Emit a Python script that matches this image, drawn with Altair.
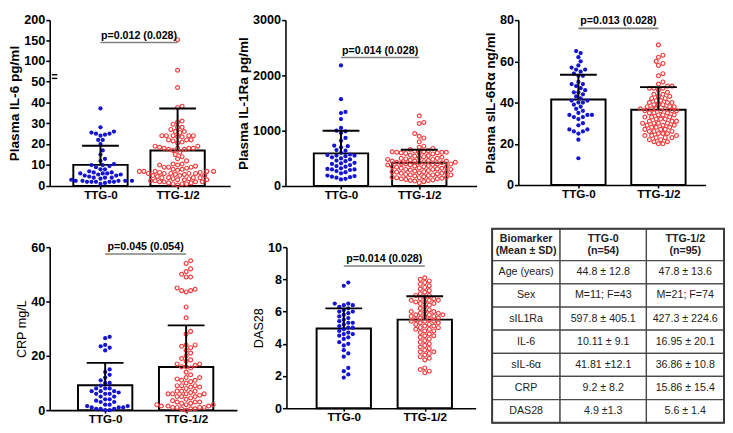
import altair as alt
import pandas as pd
import numpy as np

GROUPS = ["TTG-0", "TTG-1/2"]
BLUE = "#1414d2"
RED = "#f03c3c"
FONT = "Liberation Sans"

# ---------------- data ----------------
il6_g0 = [37, 28, 26, 25.5, 25, 25, 24.5, 24, 22, 22, 20, 17, 15, 13, 12, 10.5, 10, 10, 9.5, 9,
          8, 8, 7, 6.5, 6.5, 6, 6, 6, 5.5, 5.5, 5, 5, 4.5, 4, 4, 4, 3.5, 3, 2.5, 2.5, 2.5, 2, 2,
          2, 2, 2, 2.5, 2.5, 1, 1.5]
il6_g1 = [152, 77, 47, 38, 37.5, 31, 30.5, 29.5, 28, 28, 27, 26, 26, 25.5, 24, 24, 24, 24, 24,
          23.5, 23.5, 22, 22, 22, 21.5, 21, 20.5, 19, 19, 18.5, 18, 18, 18, 18, 17.5, 17.5, 17, 16,
          15, 14, 13, 12, 10.5, 10.5, 10, 10, 9.5, 9, 9, 9, 8.5, 8, 8, 7.5, 7, 7, 7, 7, 7, 6.5, 6.5,
          6, 6, 6, 6, 6, 5.5, 5.5, 5, 5, 5, 4.5, 4, 4, 4, 4, 3.5, 3.5, 3, 3, 3, 2.5, 2.5, 2, 2, 2, 2,
          1.5, 1.5, 1, 1, 1, 0.5]
il1ra_g0 = [2180, 1570, 1340, 1320, 1210, 1050, 1000, 990, 960, 870, 820, 730, 720, 700, 650, 640,
            600, 570, 560, 550, 550, 540, 520, 500, 480, 460, 450, 420, 410, 400, 380, 360, 350,
            320, 310, 300, 300, 290, 270, 250, 230, 190, 180, 170, 160, 150, 130, 120]
il1ra_g1 = [1270, 1150, 1130, 950, 900, 870, 800, 720, 700, 680, 660, 640, 630, 620, 620, 610, 610,
            610, 600, 600, 600, 590, 580, 560, 550, 540, 530, 520, 510, 500, 500, 490, 480, 470,
            460, 450, 450, 440, 430, 420, 420, 410, 400, 400, 390, 380, 370, 360, 350, 350, 340,
            330, 320, 310, 300, 300, 290, 280, 270, 260, 250, 250, 240, 230, 220, 210, 200, 200,
            190, 180, 170, 160, 150, 150, 140, 130, 120, 110, 100, 90, 60, 80, 100, 130, 160, 200,
            230, 260, 300, 320, 350, 380, 400, 430, 450, 480]
sil6r_g0 = [65, 64, 62, 60, 58, 57, 56, 56, 55, 54, 53, 53, 50, 49, 49, 48, 47, 46, 45, 45, 44, 43,
            42, 41, 41, 40, 40, 39, 38, 37, 36, 35, 34, 34, 34, 33, 33, 32, 30, 29, 27, 27, 26, 26,
            25, 22, 13]
sil6r_g1 = [68, 63, 62, 60, 59, 58, 54, 53, 50, 49, 48, 48, 47, 47, 47, 46, 45, 44, 44, 43, 43, 42,
            42, 41, 41, 40, 40, 40, 39, 39, 39, 38, 38, 38, 37, 37, 37, 37, 36, 36, 36, 36, 35, 35,
            35, 34, 34, 34, 33, 33, 33, 32, 32, 32, 31, 31, 31, 30, 30, 30, 30, 29, 29, 29, 28, 28,
            28, 27, 27, 27, 26, 26, 26, 25, 25, 25, 24, 24, 24, 23, 23, 23, 22, 22, 21, 21, 20, 20]
crp_g0 = [27, 26.5, 24, 23.5, 23, 22, 15, 14, 13, 12, 11, 10, 10, 9, 8, 8, 8, 7, 7, 7, 6.5, 6, 6, 6,
          5, 5, 4, 4, 3.5, 3, 3, 2, 2, 1.5, 1.5, 1, 1, 1, 0.5, 0.5, 0.5, 0, 0]
crp_g1 = [55, 54, 52, 51, 50, 49, 49, 45, 44.5, 44, 44, 43.5, 38, 34, 29, 28, 24, 24, 23.5, 23, 22,
          21, 20, 19, 18.5, 18, 17, 17, 16.5, 16, 16, 15.5, 14, 13, 12, 12, 11.5, 11, 11, 10.5, 10,
          9, 9, 9, 8.5, 8.5, 8, 7, 7, 7, 6.5, 6, 6, 6, 6, 5.5, 5, 5, 5, 4.5, 4, 3.5, 3, 3, 3, 2.5,
          2.5, 2, 2, 2, 1.5, 1.5, 1.5, 1, 1, 1, 1, 0.5, 0.5, 0.5, 0]
das_g0 = [7.8, 7.6, 6.5, 6.5, 6.4, 6.4, 6.3, 6.2, 6.1, 6.0, 6.0, 5.9, 5.8, 5.7, 5.6, 5.5, 5.4, 5.3,
          5.3, 5.2, 5.1, 5.0, 5.0, 4.9, 4.8, 4.7, 4.6, 4.6, 4.5, 4.4, 4.3, 4.1, 4.0, 3.9, 3.6, 3.4,
          3.2, 2.5, 2.3, 2.1, 1.9]
das_g1 = [8.1, 8.0, 7.9, 7.8, 7.7, 7.6, 7.5, 7.4, 7.3, 7.2, 7.1, 7.0, 7.0, 6.9, 6.8, 6.8, 6.7, 6.7,
          6.7, 6.6, 6.6, 6.5, 6.5, 6.4, 6.3, 6.2, 6.1, 6.0, 6.0, 6.0, 5.9, 5.9, 5.8, 5.8, 5.8, 5.7,
          5.7, 5.7, 5.6, 5.6, 5.5, 5.5, 5.4, 5.4, 5.4, 5.3, 5.3, 5.2, 5.2, 5.1, 5.1, 5.0, 5.0, 4.9,
          4.9, 4.8, 4.8, 4.7, 4.6, 4.5, 4.5, 4.4, 4.3, 4.2, 4.1, 4.0, 3.9, 3.8, 3.7, 3.6, 3.5, 3.5,
          3.4, 3.3, 3.2, 3.1, 3.0, 2.5, 2.4, 2.3, 2.2]

il6_mean, il6_top = [10.1, 16.95], [19.2, 37.0]
il1ra_mean, il1ra_top = [590, 420], [1000, 655]
sil6r_mean, sil6r_top = [41.5, 36.5], [53.5, 47.5]
crp_mean, crp_top = [9.2, 15.86], [17.4, 31.2]
das_mean, das_top = [4.95, 5.5], [6.2, 6.95]

p_texts = ["p=0.012 (0.028)", "p=0.014 (0.028)", "p=0.013 (0.028)", "p=0.045 (0.054)", "p=0.014 (0.028)"]
p_levels = [145, 2325, 76, 57.5, 8.83]

table_header = ["Biomarker\n(Mean ± SD)", "TTG-0\n(n=54)", "TTG-1/2\n(n=95)"]
table_rows = [
    ["Age (years)", "44.8 ± 12.8", "47.8 ± 13.6"],
    ["Sex", "M=11; F=43", "M=21; F=74"],
    ["sIL1Ra", "597.8 ± 405.1", "427.3 ± 224.6"],
    ["IL-6", "10.11 ± 9.1", "16.95 ± 20.1"],
    ["sIL-6α", "41.81 ±12.1", "36.86 ± 10.8"],
    ["CRP", "9.2 ± 8.2", "15.86 ± 15.4"],
    ["DAS28", "4.9 ±1.3", "5.6 ± 1.4"],
]


def swarm(vals, to_px, d):
    order = np.argsort(vals, kind="stable")
    placed = []
    xs = [0.0] * len(vals)
    cands = [0.0]
    for j in range(1, 80):
        cands += [j * 0.5 * d, -j * 0.5 * d]
    for i in order:
        y = to_px(vals[i])
        chosen = cands[-1]
        for c in cands:
            if all((c - px) ** 2 + (y - py) ** 2 >= d * d for px, py in placed):
                chosen = c
                break
        placed.append((chosen, y))
        xs[i] = chosen
    return xs


def panel(g0, g1, means, tops, ptext, plevel, ydom, yrange, yticks, ytitle, bold,
          W, H, L, S, to_px, brk=None):
    lo, hi = -L / S, (W - L) / S
    xs = alt.Scale(domain=[lo, hi], nice=False, zero=False)
    if yrange is not None:
        ys = alt.Scale(domain=ydom, range=yrange, nice=False, zero=False)
    else:
        ys = alt.Scale(domain=ydom, nice=False, zero=False)
    d = 4.9
    o0 = swarm(g0, to_px, d)
    o1 = swarm(g1, to_px, d)
    pts0 = pd.DataFrame({"x": [0 + o / S for o in o0], "v": g0})
    pts1 = pd.DataFrame({"x": [1 + o / S for o in o1], "v": g1})
    cap = 20 / S
    bars = pd.DataFrame({"g": [0, 1], "mean": means, "top": tops,
                         "cl": [0 - cap, 1 - cap], "cr": [0 + cap, 1 + cap]})
    xaxis = alt.Axis(values=[0, 1], labelExpr=f"['{GROUPS[0]}','{GROUPS[1]}'][datum.value]",
                     title=None, labelFontSize=12, labelPadding=1, tickSize=3)
    yaxis = alt.Axis(values=yticks, title=ytitle, titleFontWeight="bold" if bold else "normal",
                     titleFontSize=14 if bold else 13, format="d", labelOverlap=False, zindex=0)
    bar = alt.Chart(bars).mark_bar(size=56, fill="white", stroke="black", strokeWidth=2).encode(
        x=alt.X("g:Q", scale=xs, axis=xaxis), y=alt.Y("mean:Q", scale=ys, axis=yaxis))
    p0 = alt.Chart(pts0).mark_point(shape="circle", filled=True, size=19, color=BLUE, opacity=1).encode(
        x=alt.X("x:Q", scale=xs, axis=xaxis), y=alt.Y("v:Q", scale=ys, axis=yaxis))
    p1 = alt.Chart(pts1).mark_point(shape="circle", filled=False, size=16, color=RED, strokeWidth=1.2,
                                    opacity=1).encode(x=alt.X("x:Q", scale=xs, axis=xaxis),
                                                      y=alt.Y("v:Q", scale=ys, axis=yaxis))
    err = alt.Chart(bars).mark_rule(color="black", strokeWidth=2).encode(
        x=alt.X("g:Q", scale=xs, axis=xaxis), y=alt.Y("mean:Q", scale=ys, axis=yaxis), y2="top:Q")
    capr = alt.Chart(bars).mark_rule(color="black", strokeWidth=2).encode(
        x=alt.X("cl:Q", scale=xs, axis=xaxis), x2="cr:Q", y=alt.Y("top:Q", scale=ys, axis=yaxis))
    sig = pd.DataFrame({"a": [0], "b": [1], "m": [0.5], "y": [plevel], "t": [ptext]})
    sline = alt.Chart(sig).mark_rule(color="#808080", strokeWidth=1.6).encode(
        x=alt.X("a:Q", scale=xs, axis=xaxis), x2="b:Q", y=alt.Y("y:Q", scale=ys, axis=yaxis))
    stext = alt.Chart(sig).mark_text(font=FONT, fontSize=11, fontWeight="bold", baseline="bottom",
                                     dy=-2, color="black").encode(
        x=alt.X("m:Q", scale=xs, axis=xaxis), y=alt.Y("y:Q", scale=ys, axis=yaxis), text="t:N")
    layers = [bar, p0, p1, err, capr, sline, stext]
    if brk is not None:
        bd = pd.DataFrame({"x": [lo], "xa": [lo - 3 / S], "xb": [lo + 3 / S],
                           "y1": [brk[0]], "y2": [brk[1]]})
        gap = alt.Chart(bd).mark_rule(color="white", strokeWidth=6).encode(
            x=alt.X("x:Q", scale=xs, axis=xaxis), y=alt.Y("y1:Q", scale=ys, axis=yaxis), y2="y2:Q")
        t1 = alt.Chart(bd).mark_rule(color="black", strokeWidth=1.5).encode(
            x=alt.X("xa:Q", scale=xs, axis=xaxis), x2="xb:Q", y=alt.Y("y1:Q", scale=ys, axis=yaxis))
        t2 = alt.Chart(bd).mark_rule(color="black", strokeWidth=1.5).encode(
            x=alt.X("xa:Q", scale=xs, axis=xaxis), x2="xb:Q", y=alt.Y("y2:Q", scale=ys, axis=yaxis))
        layers += [gap, t1, t2]
    return alt.layer(*layers).properties(width=W, height=H)


def lin(H, top):
    return lambda v: v * H / top


H1 = 171
LOW1 = 108


def il6_px(v):
    return v * LOW1 / 50 if v <= 50 else LOW1 + (v - 50) * (H1 - LOW1) / 150


P1 = panel(il6_g0, il6_g1, il6_mean, il6_top, p_texts[0], p_levels[0], [0, 50, 200], [H1, H1 - LOW1, 0],
           [0, 10, 20, 30, 40, 50, 100, 150, 200], "Plasma IL-6 pg/ml", True, 186, H1, 50, 84, il6_px,
           brk=[57, 66])
P2 = panel(il1ra_g0, il1ra_g1, il1ra_mean, il1ra_top, p_texts[1], p_levels[1], [0, 3000], None,
           [0, 1000, 2000, 3000], "Plasma IL-1Ra pg/ml", True, 197, H1, 55, 85, lin(H1, 3000))
P3 = panel(sil6r_g0, sil6r_g1, sil6r_mean, sil6r_top, p_texts[2], p_levels[2], [0, 80], None,
           [0, 20, 40, 60, 80], "Plasma sIL-6Rα ng/ml", True, 193, 170, 60, 87, lin(170, 80))
P4 = panel(crp_g0, crp_g1, crp_mean, crp_top, p_texts[3], p_levels[3], [0, 60], None,
           [0, 20, 40, 60], "CRP mg/L", False, 193, 168, 55, 88, lin(168, 60))
P5 = panel(das_g0, das_g1, das_mean, das_top, p_texts[4], p_levels[4], [0, 10], None,
           [0, 2, 4, 6, 8, 10], "DAS28", False, 195, 166, 57, 88, lin(166, 10))

# ---------------- table ----------------
col_edges = [0, 70, 159, 239]
row_h = [33] + [23.86] * 7
row_edges = [0]
for h in row_h:
    row_edges.append(row_edges[-1] + h)
cells = []
all_rows = [table_header] + table_rows
for r, row in enumerate(all_rows):
    for c, txt in enumerate(row):
        cells.append({"x1": col_edges[c], "x2": col_edges[c + 1], "y1": row_edges[r], "y2": row_edges[r + 1],
                      "cx": (col_edges[c] + col_edges[c + 1]) / 2, "cy": (row_edges[r] + row_edges[r + 1]) / 2,
                      "t": txt, "hdr": r == 0})
cdf = pd.DataFrame(cells)
TW, TH = col_edges[-1], row_edges[-1]
RAISE = 19  # table top sits above the neighbouring plot tops
tx = alt.Scale(domain=[0, TW], nice=False, zero=False)
ty = alt.Scale(domain=[RAISE, TH], nice=False, zero=False, reverse=True)
rects = alt.Chart(cdf).mark_rect(fill="white", stroke="#4a4a4a", strokeWidth=1.3).encode(
    x=alt.X("x1:Q", scale=tx, axis=None), x2="x2:Q", y=alt.Y("y1:Q", scale=ty, axis=None), y2="y2:Q")
border = alt.Chart(pd.DataFrame({"a": [0], "b": [TW], "c": [0], "d": [TH]})).mark_rect(
    fill=None, stroke="#3a3a3a", strokeWidth=2).encode(
    x=alt.X("a:Q", scale=tx, axis=None), x2="b:Q", y=alt.Y("c:Q", scale=ty, axis=None), y2="d:Q")
body = alt.Chart(cdf[~cdf.hdr]).mark_text(font=FONT, fontSize=11, color="#222").encode(
    x=alt.X("cx:Q", scale=tx, axis=None), y=alt.Y("cy:Q", scale=ty, axis=None), text="t:N")
head = alt.Chart(cdf[cdf.hdr]).mark_text(font=FONT, fontSize=11, fontWeight="bold", color="#222",
                                         lineBreak="\n", dy=-6).encode(
    x=alt.X("cx:Q", scale=tx, axis=None), y=alt.Y("cy:Q", scale=ty, axis=None), text="t:N")
TABLE = alt.layer(rects, border, body, head).properties(width=TW, height=TH - RAISE)

top = alt.hconcat(P1, P2, P3, spacing=7)
bottom = alt.hconcat(P4, P5, TABLE, spacing=16)
chart = alt.vconcat(top, bottom, spacing=28).properties(padding=0).configure_view(stroke=None).configure_axis(
    domainColor="black", domainWidth=1.6, tickColor="black", tickWidth=1.6, tickSize=4, grid=False,
    labelFont=FONT, labelFontWeight="bold", labelFontSize=13, labelColor="black", labelPadding=1,
    labelOverlap=False, titleFont=FONT, titleColor="black", titlePadding=2)

chart.save("out.html", embed_options={"renderer": "svg", "actions": False})
